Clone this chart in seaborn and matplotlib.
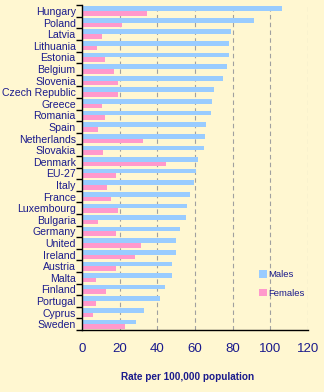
import matplotlib
matplotlib.use("Agg")
import matplotlib.pyplot as plt
import seaborn as sns
import pandas as pd
import numpy as np
from matplotlib.ticker import FixedLocator

countries = ["Hungary", "Poland", "Latvia", "Lithuania", "Estonia", "Belgium", "Slovenia",
             "Czech Republic", "Greece", "Romania", "Spain", "Netherlands", "Slovakia",
             "Denmark", "EU-27", "Italy", "France", "Luxembourg", "Bulgaria", "Germany",
             "United", "Ireland", "Austria", "Malta", "Finland", "Portugal", "Cyprus", "Sweden"]
males = [106.3, 91.1, 79.2, 77.8, 77.8, 77.1, 75.0, 70.2, 69.1, 68.6, 65.9, 65.4, 64.9,
         61.7, 60.6, 59.7, 57.4, 55.8, 55.3, 52.1, 50.0, 50.0, 47.9, 47.9, 44.1, 41.5, 33.0, 28.7]
females = [34.6, 21.3, 10.6, 8.0, 12.2, 17.0, 19.1, 19.1, 10.6, 12.2, 8.5, 32.4, 11.2,
           44.7, 18.1, 13.3, 15.4, 19.1, 8.5, 18.1, 31.4, 28.2, 18.1, 7.4, 12.8, 7.4, 5.8, 22.9]
x_ticks = [0, 20, 40, 60, 80, 100, 120]
x_label = "Rate per 100,000 population"

df = pd.DataFrame({
    "country": countries * 2,
    "value": males + females,
    "sex": ["Males"] * len(countries) + ["Females"] * len(countries),
})

bg = "#FFF7D1"
navy = "#1A1A8C"

fig = plt.figure(figsize=(3.24, 3.92), dpi=100)
fig.patch.set_facecolor(bg)
ax = fig.add_axes([0.253, 0.158, 0.698, 0.829])
ax.set_facecolor(bg)

sns.barplot(data=df, y="country", x="value", hue="sex", orient="h",
            palette={"Males": "#99CCFF", "Females": "#FF99CC"},
            hue_order=["Males", "Females"], order=countries,
            width=0.8, saturation=1, ax=ax, linewidth=0)

ax.set_xlim(0, 120)
ax.set_ylim(len(countries) - 0.5, -0.5)
ax.set_xticks(x_ticks)
ax.set_xticklabels([str(t) for t in x_ticks], fontfamily="Liberation Sans", fontsize=9.5, color=navy)
ax.tick_params(axis="x", length=0, pad=9)
ax.tick_params(axis="y", which="major", length=0, pad=4.5)
for lbl in ax.get_yticklabels():
    lbl.set_fontfamily("Liberation Sans")
    lbl.set_fontsize(7.6)
    lbl.set_color(navy)
ax.yaxis.set_minor_locator(FixedLocator(np.arange(-0.5, len(countries), 1.0)))
ax.tick_params(axis="y", which="minor", length=4, width=1, color="black", direction="out")

for v in x_ticks[1:]:
    ax.axvline(v, color="#A0A0A0", linestyle=(0, (4, 3)), linewidth=0.8, zorder=0)

for s in ["top", "right"]:
    ax.spines[s].set_visible(False)
ax.spines["left"].set_color("black")
ax.spines["bottom"].set_color("black")
ax.spines["left"].set_linewidth(1)
ax.spines["bottom"].set_linewidth(1)

ax.set_ylabel("")
ax.set_xlabel(x_label, fontfamily="Liberation Sans", fontsize=7.2, fontweight="bold",
              color=navy, labelpad=12.5)
ax.xaxis.label.set_x(0.465)

leg = ax.legend(loc="upper left", bbox_to_anchor=(0.745, 0.21), frameon=False,
                handlelength=0.8, handleheight=0.8, handletextpad=0.2, labelspacing=1.0,
                prop={"family": "Liberation Sans", "size": 6.8})
for t in leg.get_texts():
    t.set_color(navy)

fig.savefig("out.png", dpi=100, facecolor=bg)
